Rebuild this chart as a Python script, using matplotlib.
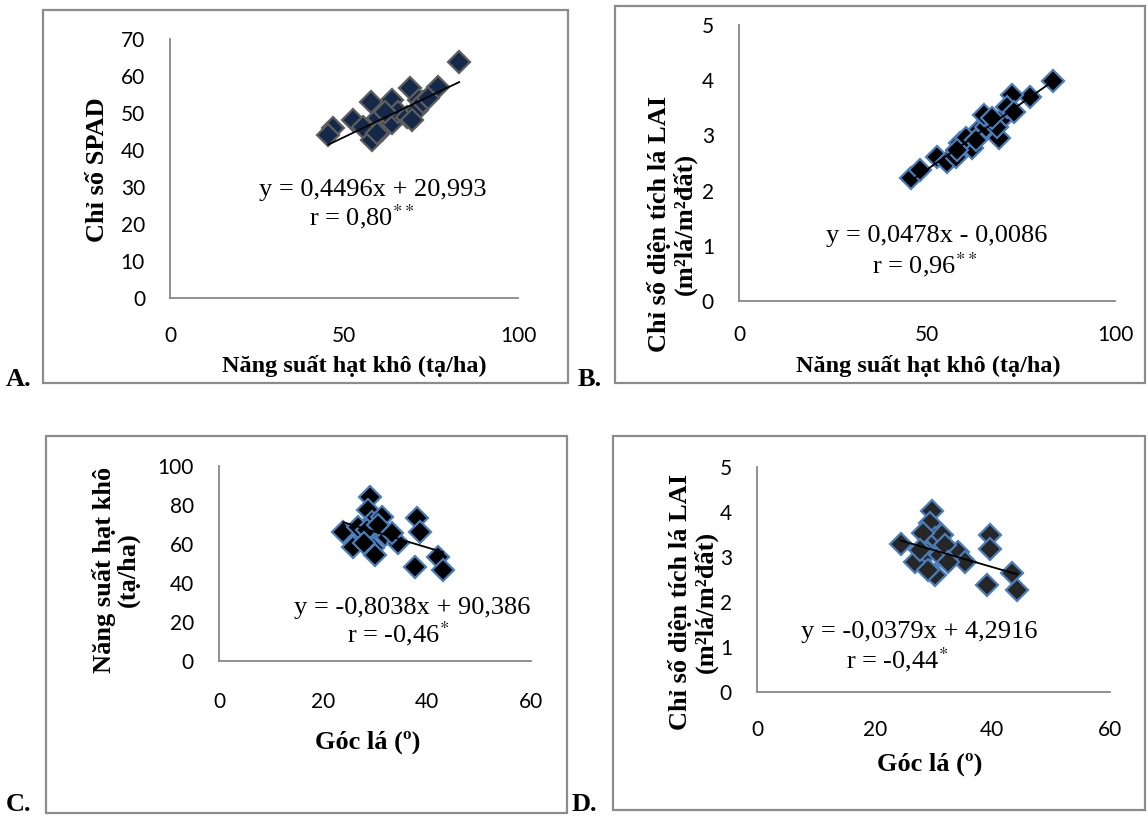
import numpy as np
import matplotlib
matplotlib.use("Agg")
import matplotlib.pyplot as plt
from matplotlib.patches import Rectangle

# --- data ---
# A: SPAD vs yield
a_yield = [83.1, 77.1, 69.0, 57.7, 63.7, 71.6, 46.9, 45.5, 52.7, 55.5, 58.0,
           59.9, 60.8, 63.7, 65.6, 68.0, 70.9, 72.8, 69.4, 61.8, 59.4, 74.2]
a_spad = [63.9, 57.1, 56.7, 53.1, 53.5, 53.5, 45.9, 44.1, 48.1, 46.3, 42.7,
          48.6, 45.4, 47.2, 50.4, 49.0, 50.8, 53.1, 48.1, 50.4, 44.5, 54.0]

# B: LAI vs yield
b_yield = [83.4, 77.4, 72.5, 45.8, 48.1, 52.7, 55.4, 57.6, 58.9, 62.1, 63.4,
           65.6, 65.1, 69.1, 68.7, 70.9, 71.4, 73.1, 60.3, 62.9, 58.1, 67.4]
b_lai = [3.99, 3.69, 3.73, 2.22, 2.37, 2.61, 2.52, 2.61, 2.86, 2.77, 3.07,
         3.16, 3.37, 2.95, 3.16, 3.37, 3.52, 3.43, 2.95, 2.92, 2.74, 3.31]

# C: yield vs leaf angle
c_angle = [29.0, 28.7, 23.9, 29.4, 31.3, 25.8, 28.1, 29.7, 30.0, 32.0, 34.5,
           33.2, 26.8, 38.0, 38.7, 37.7, 42.2, 43.1, 28.4, 30.6, 27.8]
c_yield = [84.3, 77.4, 66.3, 71.4, 74.0, 58.6, 63.7, 57.8, 54.4, 64.6, 60.3,
           65.5, 68.9, 73.2, 66.3, 48.4, 53.5, 46.7, 67.2, 69.7, 60.4]

# D: LAI vs leaf angle
d_angle = [29.7, 29.4, 24.4, 30.3, 31.4, 28.3, 26.9, 28.9, 30.3, 29.1, 31.1,
           34.2, 35.4, 39.6, 39.6, 39.1, 43.3, 44.2, 32.0, 27.7, 32.5]
d_lai = [4.03, 3.75, 3.30, 3.42, 3.49, 3.53, 2.90, 3.08, 2.60, 2.71, 3.04,
         3.12, 2.90, 3.49, 3.17, 2.38, 2.64, 2.27, 3.27, 3.16, 2.90]

# trendline coefficients printed on the chart
fits = {"A": (0.4496, 20.993), "B": (0.0478, -0.0086),
        "C": (-0.8038, 90.386), "D": (-0.0379, 4.2916)}

W, H = 1148, 818
plt.rcParams["mathtext.fontset"] = "stix"
fig = plt.figure(figsize=(W / 100, H / 100), dpi=100)

SERIF = "Liberation Serif"
TICKF = "Lato"
GRAY = "#878787"
BLUE = "#4A7EBB"


def fx(px):
    return px / W


def fy(py):
    return 1 - py / H


def panel(x, y, coef, box, ax_px, xlim, ylim, xticks, yticks, xpad,
          face, edge, xlabel, xlab_pos, xlab_size, ylabel, ylab_pos, eq, eq_pos,
          r_txt, r_pos, letter, letter_pos):
    # gray frame round each chart
    bx0, by0, bx1, by1 = box
    fig.patches.append(Rectangle((fx(bx0), fy(by1)), fx(bx1 - bx0), (by1 - by0) / H,
                                 transform=fig.transFigure, fill=False,
                                 edgecolor="#8C8C8C", linewidth=1.6))
    l, t, r, b = ax_px
    ax = fig.add_axes([fx(l), fy(b), fx(r - l), (b - t) / H])
    ax.set_xlim(*xlim)
    ax.set_ylim(*ylim)
    ax.set_xticks(xticks)
    ax.set_yticks(yticks)
    for s in ("top", "right"):
        ax.spines[s].set_visible(False)
    for s in ("left", "bottom"):
        ax.spines[s].set_color(GRAY)
        ax.spines[s].set_linewidth(1.3)
    ax.tick_params(length=0, labelsize=15)
    ax.tick_params(axis="x", pad=xpad)
    ax.tick_params(axis="y", pad=18)
    for lab in ax.get_xticklabels() + ax.get_yticklabels():
        lab.set_fontfamily(TICKF)
    ax.patch.set_alpha(0)

    ax.plot(x, y, linestyle="none", marker="D", markersize=11,
            markerfacecolor=face, markeredgecolor=edge, markeredgewidth=1.6,
            clip_on=False, zorder=3)
    m, c = coef
    xs = np.array([min(x), max(x)])
    ax.plot(xs, m * xs + c, color="black", linewidth=1.3, zorder=4)

    fig.text(fx(xlab_pos[0]), fy(xlab_pos[1]), xlabel, family=SERIF,
             weight="bold", fontsize=xlab_size, ha="center", va="center")
    fig.text(fx(ylab_pos[0]), fy(ylab_pos[1]), ylabel, family=SERIF,
             weight="bold", fontsize=19, ha="center", va="center",
             rotation=90, multialignment="center", linespacing=1.05)
    fig.text(fx(eq_pos[0]), fy(eq_pos[1]), eq, family=SERIF, fontsize=19,
             ha="center", va="center")
    fig.text(fx(r_pos[0]), fy(r_pos[1]), r_txt, family=SERIF, fontsize=19,
             ha="center", va="center")
    fig.text(fx(letter_pos[0]), fy(letter_pos[1]), letter, family=SERIF,
             weight="bold", fontsize=19, ha="left", va="baseline")
    return ax


panel(a_yield, a_spad, fits["A"], (43, 10, 568, 383), (170, 39, 518, 298),
      (0, 100), (0, 70), [0, 50, 100], range(0, 71, 10), 20,
      "#14284A", "#5E5E5E", "Năng suất hạt khô (tạ/ha)", (354, 366), 17.5,
      "Chỉ số SPAD", (97, 170), "y = 0,4496x + 20,993", (373, 190),
      r"r = 0,80$^{**}$", (362, 217), "A.", (6, 386))

panel(b_yield, b_lai, fits["B"], (615, 6, 1145, 383), (739, 25, 1115, 301),
      (0, 100), (0, 5), [0, 50, 100], range(0, 6), 17,
      "black", BLUE, "Năng suất hạt khô (tạ/ha)", (928, 366), 17.5,
      "Chỉ số diện tích lá LAI\n(m²lá/m²đất)", (672, 224),
      "y = 0,0478x - 0,0086", (937, 236),
      r"r = 0,96$^{**}$", (925, 265), "B.", (578, 386))

panel(c_angle, c_yield, fits["C"], (46, 436, 567, 813), (219, 466, 531, 661),
      (0, 60), (0, 100), [0, 20, 40, 60], range(0, 101, 20), 22,
      "black", BLUE, "Góc lá (º)", (368, 742), 19,
      "Năng suất hạt khô\n(tạ/ha)", (116, 570),
      "y = -0,8038x + 90,386", (412, 608),
      r"r = -0,46$^{*}$", (398, 634), "C.", (6, 811))

panel(d_angle, d_lai, fits["D"], (613, 436, 1145, 810), (757, 467, 1110, 692),
      (0, 60), (0, 5), [0, 20, 40, 60], range(0, 6), 20,
      "#262626", BLUE, "Góc lá (º)", (930, 764), 19,
      "Chỉ số diện tích lá LAI\n(m²lá/m²đất)", (693, 602),
      "y = -0,0379x + 4,2916", (919, 632),
      r"r = -0,44$^{*}$", (897, 660), "D.", (572, 811))

fig.savefig("out.png", dpi=100)
